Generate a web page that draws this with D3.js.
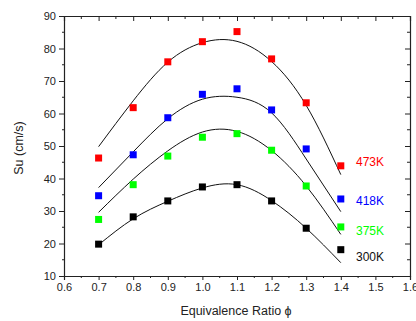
<!DOCTYPE html>
<html>
<head>
<meta charset="utf-8">
<script src="https://cdn.jsdelivr.net/npm/d3@7"></script>
<style>
  html, body { margin: 0; padding: 0; background: #fff; }
  svg { display: block; font-family: "Liberation Sans", Arial, sans-serif; }
</style>
</head>
<body>
<div id="chart"></div>
<script>
// measured points, equivalence ratio vs burning velocity
const phi = [0.7, 0.8, 0.9, 1.0, 1.1, 1.2, 1.3, 1.4];
const su473 = [46.3, 61.8, 75.9, 82.1, 85.2, 76.8, 63.3, 43.9];
const su418 = [34.7, 47.3, 58.7, 65.9, 67.6, 61.1, 49.1, 33.7];
const su375 = [27.4, 38.1, 46.9, 52.7, 53.8, 48.7, 37.7, 25.1];
const su300 = [19.8, 28.2, 33.1, 37.4, 38.1, 33.1, 24.7, 18.1];

// fitted curves
const fitPhi = [0.7, 0.8, 0.9, 1.0, 1.1, 1.2, 1.3, 1.4];
const fit473 = [49.8, 63.9, 75.8, 81.8, 82.2, 76.0, 62.5, 41.2];
const fit418 = [37.2, 48.2, 58.4, 64.4, 65.0, 60.2, 46.0, 29.8];
const fit375 = [29.6, 39.8, 48.5, 54.3, 54.5, 48.6, 37.7, 22.8];
const fit300 = [19.6, 27.6, 33.0, 37.1, 38.1, 33.2, 24.7, 14.1];

const seriesNames = ["473K", "418K", "375K", "300K"];
const seriesColors = ["#ff0000", "#0000ff", "#00ff00", "#000000"];

const xTicks = [0.6, 0.7, 0.8, 0.9, 1.0, 1.1, 1.2, 1.3, 1.4, 1.5, 1.6];
const yTicks = [10, 20, 30, 40, 50, 60, 70, 80, 90];

const width = 416, height = 321;
const x = d3.scaleLinear().domain([0.6, 1.6]).range([64, 410]);
const y = d3.scaleLinear().domain([10, 90]).range([276, 16]);

const svg = d3.select("#chart").append("svg")
    .attr("width", width)
    .attr("height", height);

const axisColor = "#222";

// minor ticks halfway between majors
const xMinor = d3.range(0.65, 1.6, 0.1);
const yMinor = d3.range(15, 90, 10);

// bottom axis
const gx = svg.append("g")
    .attr("transform", `translate(0,${y.range()[0]})`)
    .call(d3.axisBottom(x).tickValues(xTicks).tickFormat(d3.format(".1f")).tickSize(4).tickPadding(3));
gx.append("g").selectAll("line").data(xMinor).join("line")
    .attr("x1", d => x(d)).attr("x2", d => x(d))
    .attr("y1", 0).attr("y2", 2);

// left axis
const gy = svg.append("g")
    .attr("transform", `translate(${x.range()[0]},0)`)
    .call(d3.axisLeft(y).tickValues(yTicks).tickFormat(d3.format("d")).tickSize(5).tickPadding(3));
gy.append("g").selectAll("line").data(yMinor).join("line")
    .attr("x1", 0).attr("x2", -2)
    .attr("y1", d => y(d)).attr("y2", d => y(d));

// top axis, ticks inward
const gt = svg.append("g")
    .attr("transform", `translate(0,${y.range()[1]})`)
    .call(d3.axisTop(x).tickValues(xTicks).tickFormat("").tickSize(-5));
gt.append("g").selectAll("line").data(xMinor).join("line")
    .attr("x1", d => x(d)).attr("x2", d => x(d))
    .attr("y1", 0).attr("y2", 3);

// right axis, ticks inward
const gr = svg.append("g")
    .attr("transform", `translate(${x.range()[1]},0)`)
    .call(d3.axisRight(y).tickValues(yTicks).tickFormat("").tickSize(-5));
gr.append("g").selectAll("line").data(yMinor).join("line")
    .attr("x1", 0).attr("x2", -3)
    .attr("y1", d => y(d)).attr("y2", d => y(d));

svg.selectAll(".domain").attr("stroke", axisColor).attr("stroke-width", 1.2);
svg.selectAll(".tick line").attr("stroke", axisColor);
svg.selectAll("g g line").attr("stroke", axisColor);
svg.selectAll(".tick text")
    .attr("font-size", 11)
    .attr("fill", "#222")
    .attr("font-family", "'Liberation Sans', Arial, sans-serif");

// axis titles
svg.append("text")
    .attr("x", 236).attr("y", 315)
    .attr("text-anchor", "middle")
    .attr("font-size", 12.5)
    .attr("fill", "#222")
    .text("Equivalence Ratio \u03d5");

svg.append("text")
    .attr("transform", "translate(23,148) rotate(-90)")
    .attr("text-anchor", "middle")
    .attr("font-size", 12.5)
    .attr("fill", "#222")
    .text("Su (cm/s)");

// fit lines
const fits = [fit473, fit418, fit375, fit300];
const line = d3.line()
    .x(d => x(d[0]))
    .y(d => y(d[1]))
    .curve(d3.curveNatural);

svg.append("g")
    .attr("fill", "none")
    .attr("stroke", "#111")
    .attr("stroke-width", 1)
  .selectAll("path")
  .data(fits)
  .join("path")
    .attr("d", f => line(fitPhi.map((p, i) => [p, f[i]])));

// data squares
const series = [su473, su418, su375, su300];
const sq = 7;
series.forEach((vals, k) => {
  svg.append("g")
      .attr("fill", seriesColors[k])
    .selectAll("rect")
    .data(vals.map((v, i) => [phi[i], v]))
    .join("rect")
      .attr("x", d => x(d[0]) - sq / 2)
      .attr("y", d => y(d[1]) - sq / 2)
      .attr("width", sq)
      .attr("height", sq);
});

// series labels at the right
const labelY = [45, 33, 24, 15.8];
svg.append("g")
    .attr("font-size", 12)
  .selectAll("text")
  .data(seriesNames)
  .join("text")
    .attr("x", 356)
    .attr("y", (d, i) => y(labelY[i]))
    .attr("dy", "0.35em")
    .attr("fill", (d, i) => seriesColors[i] === "#000000" ? "#111" : seriesColors[i])
    .text(d => d);
</script>
</body>
</html>
